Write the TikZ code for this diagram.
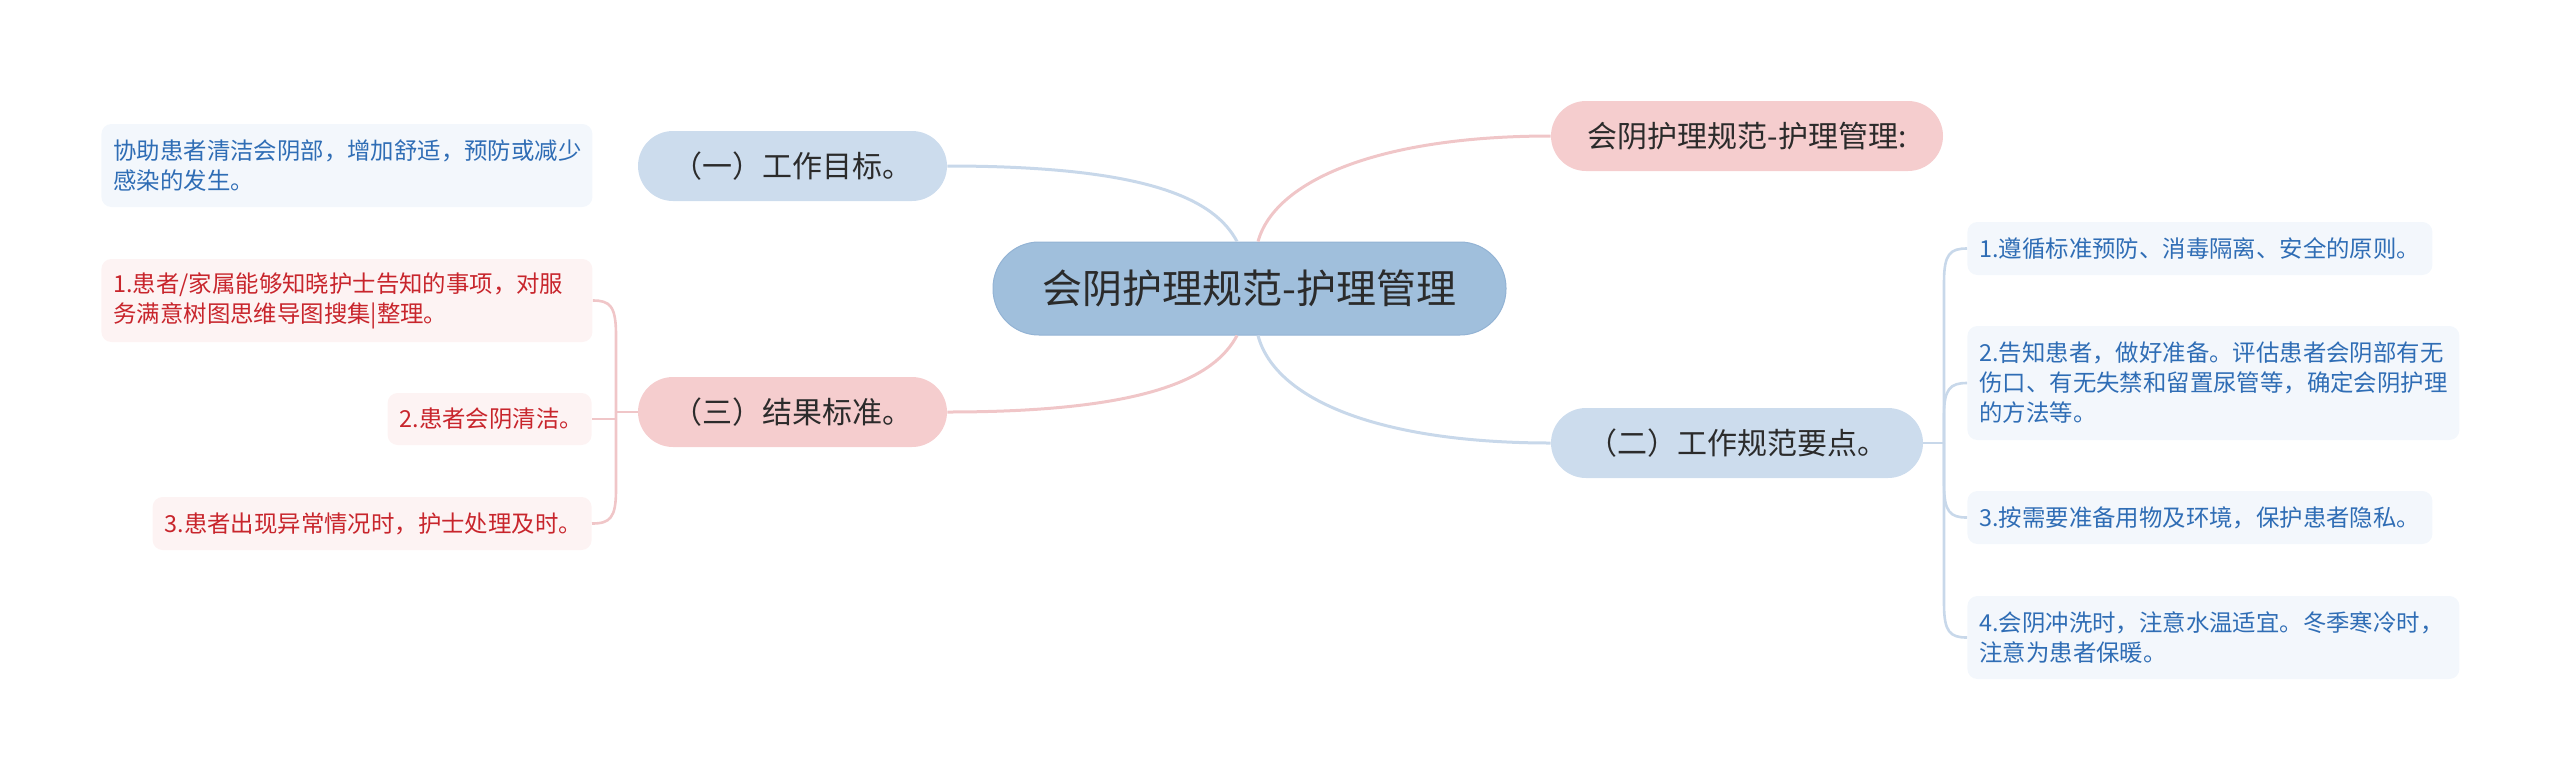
\documentclass[tikz,border=0pt]{standalone}
\usepackage{fontspec}
\setmainfont{Noto Sans CJK SC}
\definecolor{cfill}{HTML}{A0BFDC}
\definecolor{cborder}{HTML}{93B3D4}
\definecolor{bnode}{HTML}{CCDCED}
\definecolor{pnode}{HTML}{F5CDCE}
\definecolor{bleaf}{HTML}{F3F7FC}
\definecolor{pleaf}{HTML}{FDF3F3}
\definecolor{btext}{HTML}{2F6DB5}
\definecolor{rtext}{HTML}{C8252C}
\definecolor{bline}{HTML}{C8D8EA}
\definecolor{pline}{HTML}{F0C6C8}
\definecolor{dtext}{HTML}{2B2B2B}
\tikzset{
  central/.style={fill=cfill, draw=cborder, line width=0.5pt, rounded corners=23pt,
    minimum width=256.5pt, minimum height=46.5pt, inner sep=0pt,
    text=dtext, font=\fontsize{20pt}{24pt}\selectfont},
  topic/.style={rounded corners=17.5pt, minimum height=35pt, inner sep=0pt,
    text=dtext, font=\fontsize{15pt}{18pt}\selectfont},
  btopic/.style={topic, fill=bnode},
  ptopic/.style={topic, fill=pnode},
  leaf/.style={rounded corners=5pt, inner xsep=6pt, inner ysep=0pt, align=left,
    font=\fontsize{11.7pt}{15pt}\selectfont},
  bleafbox/.style={leaf, fill=bleaf, text=btext},
  rleafbox/.style={leaf, fill=pleaf, text=rtext},
  blink/.style={draw=bline, line width=1.5pt},
  plink/.style={draw=pline, line width=1.5pt},
  bbrack/.style={draw=bline, line width=1.3pt},
  pbrack/.style={draw=pline, line width=1.3pt},
}
\begin{document}
\begin{tikzpicture}[x=0.5pt, y=-0.5pt]
\useasboundingbox (0,0) rectangle (2560,778);

% central
\node[central] (C) at (1249.5,288.5) {会阴护理规范-护理管理};

% topics
\node[btopic, minimum width=154.5pt] (N1) at (792.5,166) {（一）工作目标。};
\node[ptopic, minimum width=154.5pt] (N3) at (792.5,412) {（三）结果标准。};
\node[ptopic, minimum width=196pt] (NT) at (1747,136) {会阴护理规范-护理管理:};
\node[btopic, minimum width=186pt] (N2) at (1737,443) {（二）工作规范要点。};

% left leaves
\node[bleafbox, anchor=west, text width=233.5pt, minimum height=41.5pt] (A1) at (101,165.5)
  {协助患者清洁会阴部，增加舒适，预防或减少\\感染的发生。};
\node[rleafbox, anchor=west, text width=233.5pt, minimum height=41.5pt] (C1) at (101,300.5)
  {1.患者/家属能够知晓护士告知的事项，对服\\务满意树图思维导图搜集|整理。};
\node[rleafbox, anchor=east, text width=90pt, minimum height=26pt] (C2) at (592,419)
  {2.患者会阴清洁。};
\node[rleafbox, anchor=east, text width=207.5pt, minimum height=26.5pt] (C3) at (592,523.5)
  {3.患者出现异常情况时，护士处理及时。};

% right leaves
\node[bleafbox, anchor=west, text width=220.5pt, minimum height=26.5pt] (B1) at (1967,248.5)
  {1.遵循标准预防、消毒隔离、安全的原则。};
\node[bleafbox, anchor=west, text width=234pt, minimum height=57pt] (B2) at (1967,383)
  {2.告知患者，做好准备。评估患者会阴部有无\\伤口、有无失禁和留置尿管等，确定会阴护理\\的方法等。};
\node[bleafbox, anchor=west, text width=220.5pt, minimum height=26.5pt] (B3) at (1967,517.5)
  {3.按需要准备用物及环境，保护患者隐私。};
\node[bleafbox, anchor=west, text width=234pt, minimum height=41.5pt] (B4) at (1967,637.5)
  {4.会阴冲洗时，注意水温适宜。冬季寒冷时，\\注意为患者保暖。};

% central connectors
\coordinate (CTL) at ([xshift=-6.25pt]C.north);
\coordinate (CTR) at ([xshift=4.25pt]C.north);
\coordinate (CBL) at ([xshift=-6.25pt]C.south);
\coordinate (CBR) at ([xshift=4.25pt]C.south);
\draw[blink] (N1.east) .. controls (1150,166) and (1215,200) .. (CTL);
\draw[plink] (CTR) .. controls (1275,180) and (1380,136) .. (NT.west);
\draw[plink] (CBL) .. controls (1215,377) and (1150,412) .. (N3.east);
\draw[blink] (CBR) .. controls (1275,400) and (1380,443) .. (N2.west);

% left bracket
\coordinate (J3) at (616,412);
\draw[pbrack] (N3.west) -- (J3);
\draw[pbrack] (J3) -- (616,335) .. controls (616,306) and (610,300.5) .. (C1.east);
\draw[pbrack] (J3) |- (C2.east);
\draw[pbrack] (J3) -- (616,490) .. controls (616,518) and (610,523.5) .. (C3.east);

% right bracket
\coordinate (J2) at (1944,443);
\draw[bbrack] (N2.east) -- (J2);
\draw[bbrack] (J2) -- (1944,282) .. controls (1944,254) and (1950,248.5) .. (B1.west);
\draw[bbrack] (J2) -- (1944,415) .. controls (1944,389) and (1950,383) .. (B2.west);
\draw[bbrack] (J2) -- (1944,484) .. controls (1944,512) and (1950,517.5) .. (B3.west);
\draw[bbrack] (J2) -- (1944,604) .. controls (1944,632) and (1950,637.5) .. (B4.west);
\end{tikzpicture}
\end{document}
